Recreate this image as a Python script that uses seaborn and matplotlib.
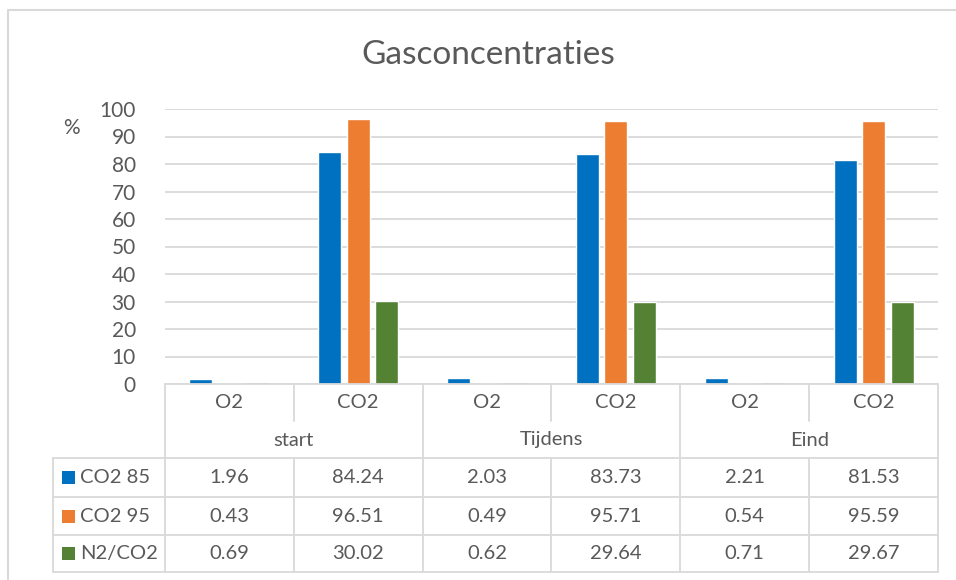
import matplotlib
matplotlib.use("Agg")
import matplotlib.pyplot as plt
import numpy as np
import pandas as pd
import seaborn as sns

# data
phases = ["start", "Tijdens", "Eind"]
gases = ["O2", "CO2"]
series = ["CO2 85", "CO2 95", "N2/CO2"]
co2_85 = [1.96, 84.24, 2.03, 83.73, 2.21, 81.53]
co2_95 = [0.43, 96.51, 0.49, 95.71, 0.54, 95.59]
n2_co2 = [0.69, 30.02, 0.62, 29.64, 0.71, 29.67]
colors = ["#0070C0", "#ED7D31", "#548235"]

cats = [p + " " + g for p in phases for g in gases]
values = [co2_85, co2_95, n2_co2]
rows = []
for s, vals in zip(series, values):
    for c, v in zip(cats, vals):
        rows.append({"cat": c, "serie": s, "val": v})
df = pd.DataFrame(rows)

sns.set_style("white")
plt.rcParams["font.family"] = ["Lato", "DejaVu Sans"]
txt = "#595959"
grid = "#D9D9D9"

W, H = 956, 580
fig = plt.figure(figsize=(W / 100, H / 100), dpi=100)

# plot area in pixels
L, R, T, B = 165, 938, 109, 384
ax = fig.add_axes([L / W, 1 - B / H, (R - L) / W, (B - T) / H])
sns.barplot(data=df, x="cat", y="val", hue="serie", order=cats, hue_order=series,
            palette=colors, width=0.663, gap=0.19, legend=False, ax=ax, saturation=1)
ax.set_xlim(-0.5, 5.5)
ax.set_ylim(0, 100)
ax.set_yticks(np.arange(0, 101, 10))
ax.yaxis.grid(True, color=grid, lw=1.3)
ax.set_axisbelow(True)
for sp in ax.spines.values():
    sp.set_visible(False)
ax.set_xticks([])
ax.set_xlabel("")
ax.set_ylabel("")
ax.tick_params(axis="y", length=0, pad=21, labelsize=15, labelcolor=txt)

# overlay in pixel coords for table, title, frame
ov = fig.add_axes([0, 0, 1, 1], zorder=-1)
ov.set_xlim(0, W)
ov.set_ylim(H, 0)
ov.axis("off")
ov2 = fig.add_axes([0, 0, 1, 1])
ov2.set_xlim(0, W)
ov2.set_ylim(H, 0)
ov2.axis("off")

ov.plot([8, 8, W + 5], [H + 5, 10, 10], color=grid, lw=1.5)
ov2.text(488, 55, "Gasconcentraties", ha="center", va="center", fontsize=24, color=txt)
ov2.text(71, 128, "%", ha="center", va="center", fontsize=15, color=txt)

edges = np.linspace(L, R, 7)
centers = (edges[:-1] + edges[1:]) / 2
y_top, y_hdr, y_grp = 384, 421, 458
row_y = [458, 497, 535, 572]
lc = dict(color=grid, lw=1.3)

ov2.plot([L, R], [y_top, y_top], **lc)
for yy in row_y:
    ov2.plot([53, R], [yy, yy], **lc)
ov2.plot([53, 53], [y_grp, row_y[-1]], **lc)
for i, x in enumerate(edges):
    if i % 2 == 0:
        ov2.plot([x, x], [y_top, row_y[-1]], **lc)
    else:
        ov2.plot([x, x], [y_top, y_hdr], **lc)
        ov2.plot([x, x], [y_grp, row_y[-1]], **lc)

fs = 14.5
for i, c in enumerate(cats):
    ov2.text(centers[i], 403, c.split(" ")[1], ha="center", va="center", fontsize=fs, color=txt)
for j, p in enumerate(phases):
    ov2.text((edges[2 * j] + edges[2 * j + 2]) / 2, 440, p, ha="center", va="center",
             fontsize=fs, color=txt)
for k, (s, vals) in enumerate(zip(series, values)):
    yc = (row_y[k] + row_y[k + 1]) / 2
    ov2.add_patch(plt.Rectangle((62, yc - 6.5), 13, 13, color=colors[k], lw=0))
    ov2.text(80, yc, s, ha="left", va="center", fontsize=fs, color=txt)
    for i, v in enumerate(vals):
        ov2.text(centers[i], yc, f"{v:.2f}", ha="center", va="center", fontsize=fs, color=txt)

fig.savefig("out.png", dpi=100)
